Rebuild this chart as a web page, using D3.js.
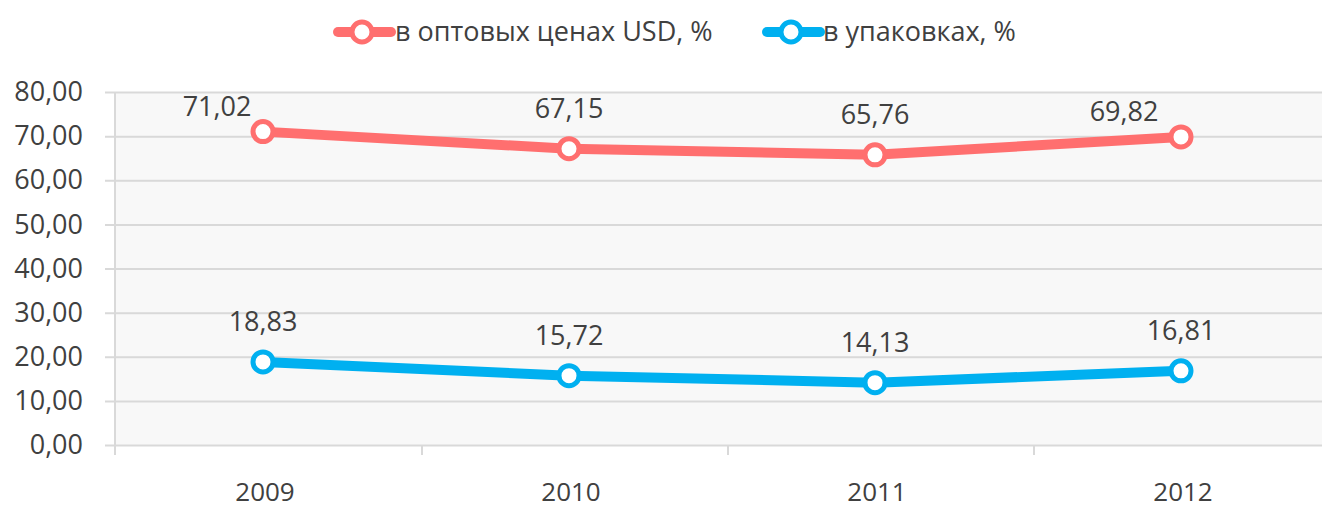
<!DOCTYPE html>
<html>
<head>
<meta charset="utf-8">
<script src="https://cdn.jsdelivr.net/npm/d3@7"></script>
<style>
  body { margin: 0; background: #fff; }
  text { font-family: "Open Sans", sans-serif; fill: #404040; }
</style>
</head>
<body>
<div id="chart"></div>
<script>
let years = ['2009', '2010', '2011', '2012']
let wholesale = [71.02, 67.15, 65.76, 69.82]
let packages = [18.83, 15.72, 14.13, 16.81]
let yTicks = [0, 10, 20, 30, 40, 50, 60, 70, 80]
let seriesNames = ['в оптовых ценах USD, %', 'в упаковках, %']

let width = 1322
let height = 509

let svg = d3.select('#chart')
  .append('svg')
  .attr('width', width)
  .attr('height', height)

let xScale = d3.scaleBand().domain(years).range([113, 1337])
let yScale = d3.scaleLinear().domain([0, 80]).range([445, 92])

let fmt = d => d.toFixed(2).replace('.', ',')

// plot background
svg.append('rect')
  .attr('x', 115)
  .attr('y', 92)
  .attr('width', width - 115)
  .attr('height', 353)
  .attr('fill', '#f8f8f8')

// gridlines + y labels
let yAxis = d3.axisLeft(yScale)
  .tickValues(yTicks)
  .tickSize(-(width - 105))
  .tickFormat(fmt)
  .tickPadding(22)

svg.append('g')
  .attr('class', 'axis y-axis')
  .attr('transform', 'translate(105,0)')
  .call(yAxis)
  .call(g => g.select('.domain').remove())
  .call(g => g.selectAll('line').attr('stroke', '#d9d9d9').attr('stroke-width', 2))
  .call(g => g.selectAll('text').style('font-size', '27px').attr('fill', '#404040'))

// vertical axis line
svg.append('line')
  .attr('x1', 115).attr('x2', 115)
  .attr('y1', 92).attr('y2', 455)
  .attr('stroke', '#d9d9d9').attr('stroke-width', 2)

// x axis ticks at category boundaries
svg.append('g')
  .selectAll('line')
  .data(years.slice(1))
  .join('line')
  .attr('x1', d => xScale(d) + 3)
  .attr('x2', d => xScale(d) + 3)
  .attr('y1', 445)
  .attr('y2', 455)
  .attr('stroke', '#d9d9d9')
  .attr('stroke-width', 2)

svg.append('g')
  .selectAll('text')
  .data(years)
  .join('text')
  .attr('x', d => xScale(d) + xScale.bandwidth() / 2 - 1)
  .attr('y', 501)
  .attr('text-anchor', 'middle')
  .style('font-size', '26px')
  .text(d => d)

let series = [
  { name: seriesNames[0], values: wholesale, color: '#ff6f6f' },
  { name: seriesNames[1], values: packages, color: '#00b0f0' }
]

let cx = i => xScale(years[i]) + xScale.bandwidth() / 2 - 3

let line = d3.line()
  .x((d, i) => cx(i))
  .y(d => yScale(d))

series.forEach((s, si) => {
  svg.append('path')
    .datum(s.values)
    .attr('d', line)
    .attr('fill', 'none')
    .attr('stroke', s.color)
    .attr('stroke-width', 10)
    .attr('stroke-linejoin', 'round')

  svg.append('g')
    .selectAll('circle')
    .data(s.values)
    .join('circle')
    .attr('cx', (d, i) => cx(i))
    .attr('cy', d => yScale(d))
    .attr('r', 10)
    .attr('fill', '#fff')
    .attr('stroke', s.color)
    .attr('stroke-width', 5)

  let last = s.values.length - 1
  svg.append('g')
    .selectAll('text')
    .data(s.values)
    .join('text')
    .attr('x', (d, i) => {
      let x = cx(i)
      if (si === 0 && i === 0) x -= 46
      if (si === 0 && i === last) x -= 57
      return x
    })
    .attr('y', (d, i) => {
      let off = (si === 0 && (i === 0 || i === last)) ? 26 : 41
      return yScale(d) - off + 10
    })
    .attr('text-anchor', 'middle')
    .style('font-size', '27px')
    .text(fmt)
})

// legend
let legendItems = [
  { x: 333, textX: 395 },
  { x: 762, textX: 823 }
]
series.forEach((s, i) => {
  let g = svg.append('g').attr('transform', 'translate(' + legendItems[i].x + ',32)')
  g.append('line')
    .attr('x1', 5).attr('x2', 58)
    .attr('stroke', s.color).attr('stroke-width', 10).attr('stroke-linecap', 'round')
  g.append('circle')
    .attr('cx', 29).attr('r', 10)
    .attr('fill', '#fff').attr('stroke', s.color).attr('stroke-width', 5)
  svg.append('text')
    .attr('x', legendItems[i].textX)
    .attr('y', 41)
    .style('font-size', '27px')
    .text(s.name)
})
</script>
</body>
</html>
